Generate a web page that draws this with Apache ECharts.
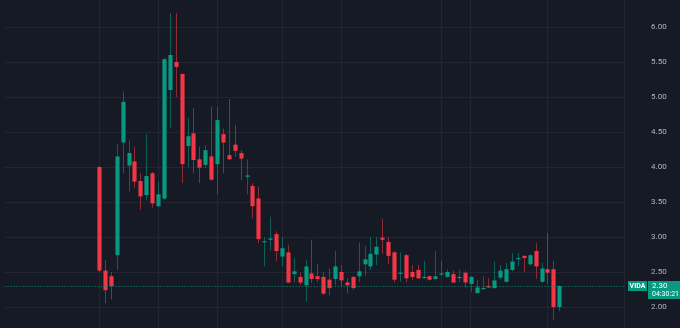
<!DOCTYPE html>
<html>
<head>
<meta charset="utf-8">
<script src="https://cdn.jsdelivr.net/npm/echarts@6/dist/echarts.min.js"></script>
<style>
html,body{margin:0;padding:0;background:#161a25;overflow:hidden;width:680px;height:328px;}
#chart{position:absolute;left:0;top:-8px;width:680px;height:350px;}
</style>
</head>
<body>
<div id="chart"></div>
<script>
// ---- data ----
var ticker = 'VIDA';
var countdown = '04:30:21';
var yTicks = [2.00, 2.50, 3.00, 3.50, 4.00, 4.50, 5.00, 5.50, 6.00];
var opens  = [4.00,2.52,2.44,2.74,4.35,4.02,4.08,3.80,3.60,3.91,3.44,3.55,5.10,5.50,5.33,4.30,4.48,4.11,4.03,4.15,4.04,4.47,4.17,4.32,4.20,3.86,3.73,3.55,2.93,2.96,3.04,2.72,2.78,2.47,2.43,2.31,2.48,2.44,2.43,2.39,2.40,2.50,2.35,2.43,2.44,2.61,2.58,2.75,2.99,2.93,2.78,2.48,2.74,2.50,2.53,2.42,2.44,2.40,2.47,2.43,2.47,2.42,2.49,2.33,2.20,2.26,2.30,2.27,2.42,2.36,2.53,2.69,2.73,2.61,2.80,2.36,2.54,2.54,2.00];
var closes = [2.52,2.24,2.30,4.15,4.93,4.20,3.79,3.58,3.87,3.48,3.61,5.54,5.60,5.43,4.04,4.44,4.10,3.99,4.24,3.82,4.67,4.35,4.11,4.23,4.12,3.88,3.44,2.97,2.94,2.98,2.80,2.84,2.35,2.51,2.35,2.58,2.40,2.40,2.19,2.27,2.58,2.38,2.31,2.27,2.51,2.68,2.76,2.86,2.96,2.73,2.39,2.49,2.41,2.43,2.41,2.43,2.39,2.44,2.48,2.50,2.35,2.43,2.35,2.43,2.28,2.27,2.28,2.38,2.52,2.54,2.65,2.70,2.70,2.74,2.58,2.55,2.49,2.00,2.30];
var lows   = [2.50,2.05,2.11,2.53,3.91,3.65,3.70,3.39,3.53,3.42,3.43,3.53,4.55,5.00,3.77,4.00,3.91,3.77,3.98,3.80,3.61,3.91,4.10,4.15,3.81,3.61,3.27,2.91,2.58,2.81,2.66,2.58,2.34,2.35,2.31,2.08,2.34,2.36,2.17,2.17,2.31,2.29,2.20,2.25,2.36,2.44,2.53,2.60,2.76,2.61,2.35,2.36,2.35,2.39,2.40,2.40,2.38,2.39,2.44,2.42,2.34,2.36,2.28,2.22,2.19,2.25,2.27,2.26,2.39,2.35,2.51,2.58,2.50,2.59,2.40,2.35,2.33,1.82,1.94];
var highs  = [4.01,2.67,2.50,4.33,5.08,4.38,4.29,3.91,4.47,3.93,3.79,5.56,6.20,6.20,5.33,4.70,4.84,4.29,4.31,4.86,4.86,4.55,4.97,4.60,4.24,4.11,3.77,3.72,3.00,3.29,3.08,3.00,2.89,2.70,2.49,2.67,2.96,2.62,2.49,2.55,2.80,2.60,2.41,2.44,2.92,2.87,3.00,3.00,3.26,3.00,2.80,2.78,2.76,2.60,2.60,2.66,2.45,2.80,2.66,2.54,2.52,2.53,2.51,2.44,2.39,2.44,2.41,2.65,2.60,2.63,2.77,2.77,2.74,2.76,2.91,2.63,3.06,2.66,2.31];
// empty bars before the first candle and after the last one (time axis padding)
var leadBars = 16;
var trailBars = 11;
// bars (candle numbers, 1-based) where the time grid lines fall
var timeGridBars = [1, 11, 21, 32, 42, 59, 64, 77, 90];

// ---- build ----
var GREEN = '#089981', RED = '#f23645';
var nBars = leadBars + opens.length + trailBars;
var cats = [];
for (var i = 0; i < nBars; i++) cats.push(String(i));
var candleData = opens.map(function (o, i) {
  return [leadBars + i, o, closes[i], lows[i], highs[i]];
});
var gridIdx = {};
timeGridBars.forEach(function (b) { gridIdx[leadBars + b - 1] = true; });
var lastClose = closes[closes.length - 1];

function renderItem(params, api) {
  var x = api.value(0);
  var o = api.value(1), c = api.value(2), l = api.value(3), h = api.value(4);
  var pO = api.coord([x, o]), pC = api.coord([x, c]);
  var pL = api.coord([x, l]), pH = api.coord([x, h]);
  var w = api.size([1, 0])[0] * 0.7;
  var col = c >= o ? GREEN : RED;
  var top = Math.min(pO[1], pC[1]), bot = Math.max(pO[1], pC[1]);
  var hh = Math.max(bot - top, 1.2);
  var cx = Math.round(pO[0]) + 0.5;
  return {
    type: 'group',
    children: [
      { type: 'line', shape: { x1: cx, y1: pH[1], x2: cx, y2: pL[1] },
        style: { stroke: col, lineWidth: 1, opacity: 0.55 } },
      { type: 'rect', shape: { x: cx - w / 2, y: top, width: w, height: hh },
        style: { fill: col } }
    ]
  };
}

var chart = echarts.init(document.getElementById('chart'), null, { renderer: 'canvas' });
chart.setOption({
  backgroundColor: '#161a25',
  animation: false,
  grid: { left: 4.6, right: 55.9, top: 0, bottom: 0, containLabel: false },
  xAxis: {
    type: 'category', data: cats, boundaryGap: false,
    axisLine: { show: false }, axisTick: { show: false }, axisLabel: { show: false },
    splitLine: { show: true, interval: function (idx) { return !!gridIdx[idx]; },
      lineStyle: { color: '#222632', width: 1 } }
  },
  yAxis: {
    type: 'value', position: 'right', min: 1.5, max: 6.5, interval: 0.5,
    axisLine: { show: false }, axisTick: { show: false },
    axisLabel: { color: '#b2b5be', fontSize: 8, fontFamily: 'Roboto, sans-serif', margin: 27,
      showMinLabel: true, showMaxLabel: true,
      formatter: function (v) { return yTicks.indexOf(Math.round(v * 100) / 100) >= 0 ? v.toFixed(2) : ''; } },
    splitLine: { show: true, lineStyle: { color: '#222632', width: 1 } }
  },
  series: [{
    type: 'custom', renderItem: renderItem, data: candleData,
    encode: { x: 0, y: [1, 2, 3, 4] }, clip: false,
    markLine: {
      silent: true, symbol: 'none', label: { show: false },
      lineStyle: { color: GREEN, type: [1, 2], width: 1, opacity: 0.9 },
      data: [{ yAxis: lastClose }]
    }
  }]
});

var yp = Math.round(chart.convertToPixel({ yAxisIndex: 0 }, lastClose));
chart.setOption({
  graphic: [
    { type: 'rect', shape: { x: 628, y: yp - 5, width: 19, height: 10 }, style: { fill: GREEN } },
    { type: 'text', x: 637.5, y: yp, style: { text: ticker, fill: '#ffffff', fontSize: 7, fontWeight: 'bold',
        fontFamily: 'Roboto, sans-serif', align: 'center', verticalAlign: 'middle' } },
    { type: 'rect', shape: { x: 648, y: yp - 5, width: 32, height: 18 }, style: { fill: GREEN } },
    { type: 'text', x: 652, y: yp, style: { text: lastClose.toFixed(2), fill: '#ffffff', fontSize: 8,
        fontFamily: 'Roboto, sans-serif', align: 'left', verticalAlign: 'middle' } },
    { type: 'text', x: 652, y: yp + 8.5, style: { text: countdown, fill: '#ffffff', fontSize: 7,
        fontFamily: 'Roboto, sans-serif', align: 'left', verticalAlign: 'middle' } }
  ]
});
</script>
</body>
</html>
